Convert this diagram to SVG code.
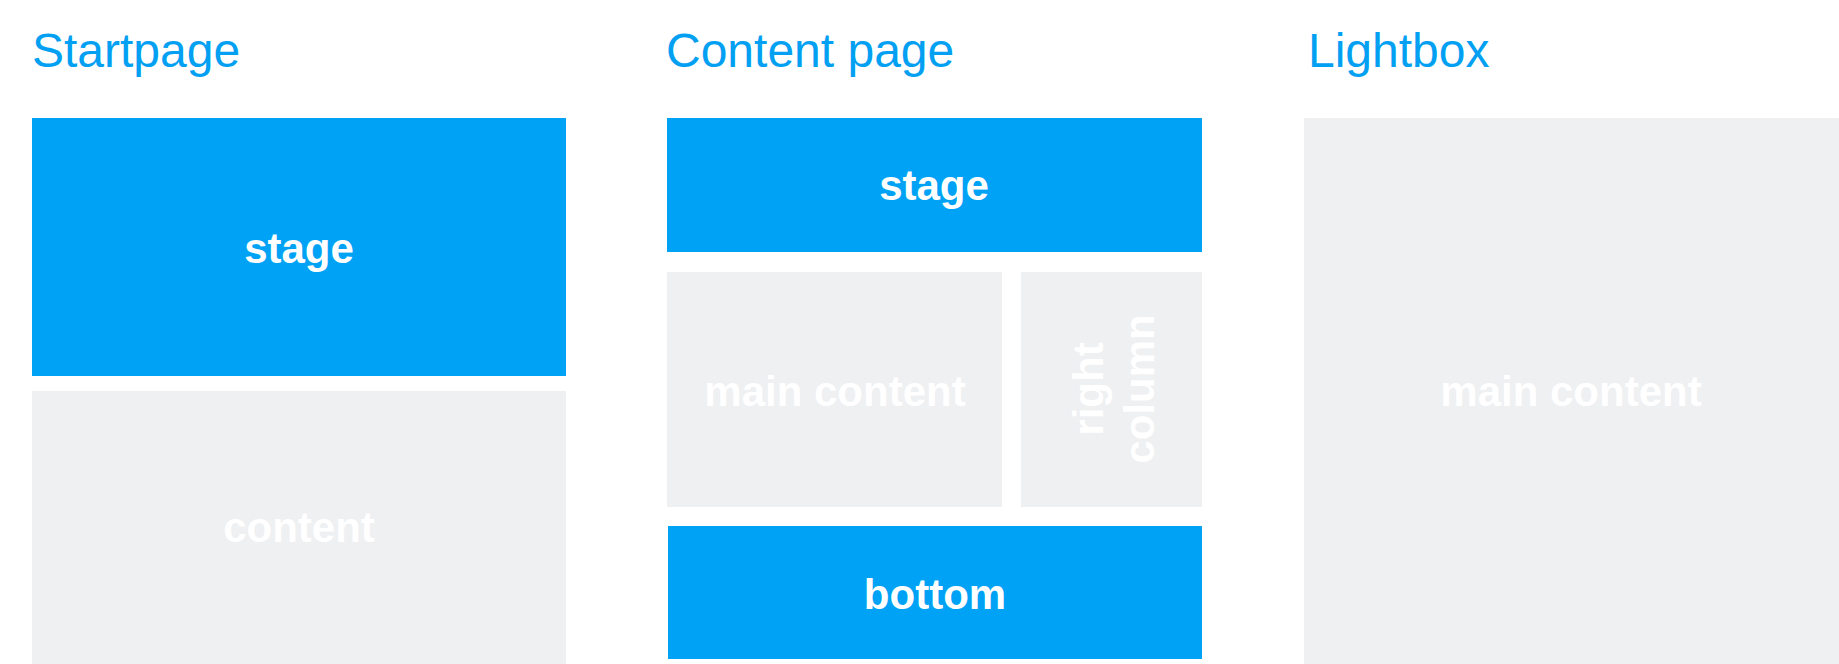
<svg xmlns="http://www.w3.org/2000/svg" width="1839" height="664" viewBox="0 0 1839 664">
<style>
.t{font-family:"Liberation Sans",Arial,sans-serif;font-size:48px;fill:#02A0F2}
.b{fill:#00A2F5}.g{fill:#EFF0F2}
.l{font-family:"Liberation Sans",Arial,sans-serif;font-size:42px;font-weight:bold;fill:#fff;text-anchor:middle}
</style>
<rect width="1839" height="664" fill="#fff"/>
<g id="titles">
<text class="t" x="32" y="67">Startpage</text>
<text class="t" x="666" y="67">Content page</text>
<text class="t" x="1308" y="67">Lightbox</text>
</g>
<g id="start-stage"><rect class="b" x="32" y="118" width="534" height="258"/><text class="l" x="299" y="263">stage</text></g>
<g id="start-content"><rect class="g" x="32" y="391" width="534" height="273"/><text class="l" x="299" y="542">content</text></g>
<g id="content-stage"><rect class="b" x="667" y="118" width="535" height="134"/><text class="l" x="934" y="200">stage</text></g>
<g id="content-main"><rect class="g" x="667" y="272" width="335" height="235"/><text class="l" x="835" y="406">main content</text></g>
<g id="content-right"><rect class="g" x="1021" y="272" width="181" height="235"/>
<text class="l" transform="translate(1103,389) rotate(-90)" x="0" y="0">right</text>
<text class="l" transform="translate(1154,389) rotate(-90)" x="0" y="0">column</text></g>
<g id="content-bottom"><rect class="b" x="668" y="526" width="534" height="133"/><text class="l" x="935" y="609">bottom</text></g>
<g id="lightbox-main"><rect class="g" x="1304" y="118" width="535" height="546"/><text class="l" x="1571" y="406">main content</text></g>
<g id="connectors"/>
</svg>
